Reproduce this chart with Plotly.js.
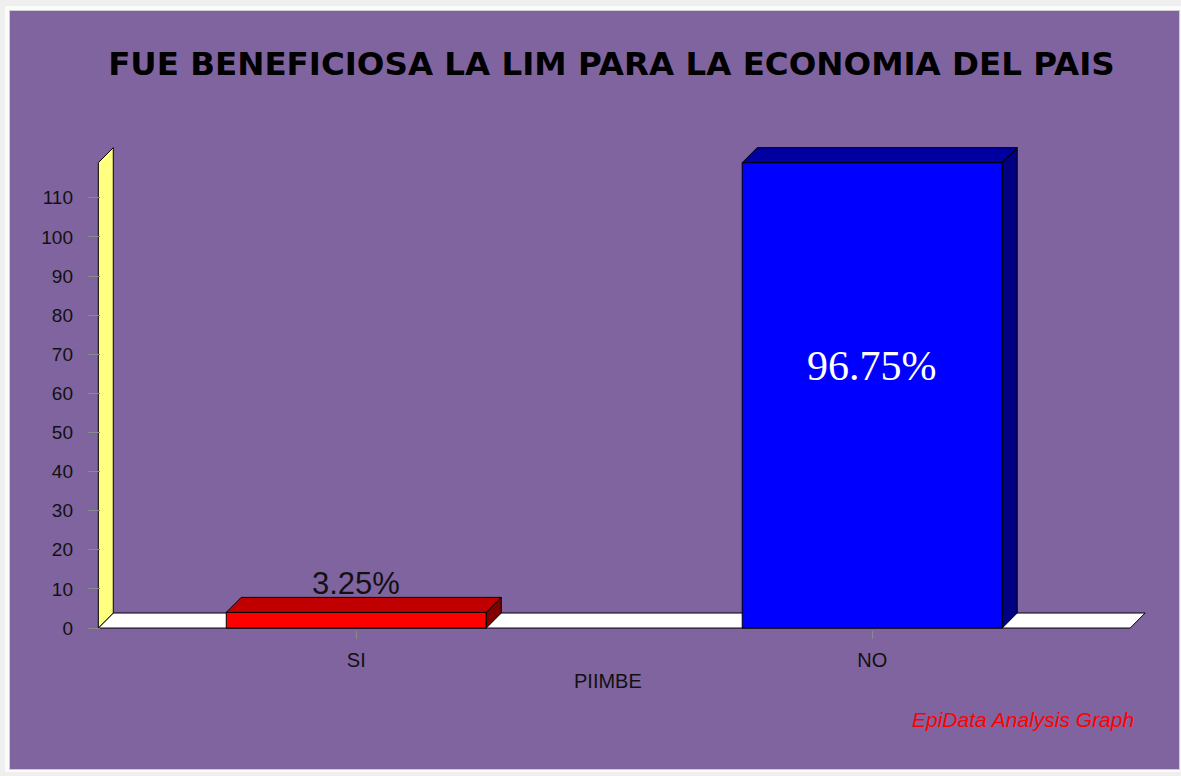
<!DOCTYPE html>
<html>
<head>
<meta charset="utf-8">
<script src="https://cdn.plot.ly/plotly-3.0.1.min.js"></script>
<style>
  html, body { margin: 0; padding: 0; background: #efefef; width: 1181px; height: 776px; overflow: hidden; }
  #frame { position: absolute; left: 5px; top: 6px; width: 1177px; height: 766px; background: #fbfbfb; }
  #chart { position: absolute; left: 10px; top: 11px; width: 1169px; height: 758px; box-shadow: 0 0 0 1px #cfcfcf; }
</style>
</head>
<body>
<div id="frame"></div>
<div id="chart"></div>
<script>
// ---- data ----
const categories = ['SI', 'NO'];
const counts = [4, 119];
const yTickVals = [0, 10, 20, 30, 40, 50, 60, 70, 80, 90, 100, 110];
const frontColors = ['#FF0000', '#0000FF'];
const topColors = ['#C00000', '#0000A0'];
const sideColors = ['#800000', '#000080'];

// ---- derived ----
const total = counts.reduce((a, b) => a + b, 0);
const pctLabels = counts.map(c => (c / total * 100).toFixed(2) + '%');
const catPos = categories.map((c, i) => i);

// 3D geometry (in axis units)
const barW = 0.504, dx = 0.029, dy = 3.84;
const x0 = -0.5, x1 = categories.length - 0.5;
const wallH = Math.max(...counts);

function poly(xs, ys, fill) {
  return {
    type: 'scatter', mode: 'lines', x: xs, y: ys, fill: 'toself',
    fillcolor: fill, line: { color: '#000', width: 1 },
    hoverinfo: 'skip', showlegend: false
  };
}

const traces = [];
// floor
traces.push(poly([x0, x1, x1 + dx, x0 + dx, x0], [0, 0, dy, dy, 0], '#FFFFFF'));
// wall
traces.push(poly([x0, x0, x0 + dx, x0 + dx, x0], [0, wallH, wallH + dy, dy, 0], '#FFFF80'));
// bars
catPos.forEach((c, i) => {
  const v = counts[i];
  const l = c - barW / 2, r = c + barW / 2;
  traces.push(poly([l, r, r, l, l], [0, 0, v, v, 0], frontColors[i]));
  traces.push(poly([l, r, r + dx, l + dx, l], [v, v, v + dy, v + dy, v], topColors[i]));
  traces.push(poly([r, r + dx, r + dx, r, r], [0, dy, v + dy, v, 0], sideColors[i]));
});

const purple = '#8064A0';
const layout = {
  width: 1169, height: 758,
  margin: { l: 78, r: 23, t: 136, b: 139 },
  paper_bgcolor: purple, plot_bgcolor: purple,
  showlegend: false,
  title: {
    text: 'FUE BENEFICIOSA LA LIM PARA LA ECONOMIA DEL PAIS',
    font: { family: 'DejaVu Sans', size: 32.5, color: '#000', weight: 'bold' },
    xref: 'container', yref: 'container',
    x: 0.5145, y: 0.930, xanchor: 'center', yanchor: 'middle'
  },
  xaxis: {
    range: [-0.52, 1.55], tickvals: catPos, ticktext: categories,
    ticks: 'outside', ticklen: 8, tickcolor: '#8a8a8a', tickwidth: 1,
    showgrid: false, zeroline: false, showline: false,
    tickfont: { family: 'Liberation Sans', size: 20, color: '#111' },
    ticklabelstandoff: 4, fixedrange: true
  },
  yaxis: {
    range: [-0.5, 123], tickvals: yTickVals, ticktext: yTickVals.map(String),
    ticks: 'inside', ticklen: 12, tickcolor: '#8a8a8a', tickwidth: 1,
    showgrid: false, zeroline: false, showline: false,
    tickfont: { family: 'Liberation Sans', size: 19, color: '#111' },
    ticklabelstandoff: 14, fixedrange: true
  },
  annotations: [
    {
      x: catPos[0], y: counts[0], xref: 'x', yref: 'y', text: pctLabels[0],
      showarrow: false, yanchor: 'middle', xanchor: 'center', yshift: 29,
      font: { family: 'Liberation Sans', size: 31, color: '#111' }
    },
    {
      x: catPos[1], y: counts[1], xref: 'x', yref: 'y', text: pctLabels[1],
      showarrow: false, yanchor: 'middle', xanchor: 'center', yshift: -203,
      font: { family: 'Liberation Serif', size: 42, color: '#FFFFFF' }
    },
    {
      x: 0.4872, y: -0.1056, xref: 'paper', yref: 'paper', text: 'PIIMBE',
      showarrow: false, xanchor: 'center', yanchor: 'middle',
      font: { family: 'Liberation Sans', size: 20, color: '#111' }
    },
    {
      x: 0.8753, y: -0.1843, xref: 'paper', yref: 'paper', text: '<i>EpiData Analysis Graph</i>',
      showarrow: false, xanchor: 'center', yanchor: 'middle',
      font: { family: 'Liberation Sans', size: 21, color: '#FF0000' }
    }
  ]
};

Plotly.newPlot('chart', traces, layout, { displayModeBar: false, staticPlot: true });
</script>
</body>
</html>
